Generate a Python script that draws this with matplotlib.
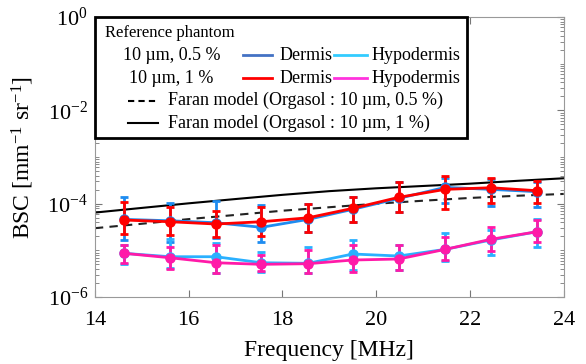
import matplotlib
matplotlib.use('Agg')
import matplotlib.pyplot as plt
import matplotlib.ticker as ticker
from matplotlib.patches import Rectangle
import numpy as np

plt.rcParams['font.family'] = ['Liberation Serif', 'DejaVu Serif']
plt.rcParams['mathtext.fontset'] = 'custom'
plt.rcParams['mathtext.rm'] = 'Liberation Serif'
plt.rcParams['mathtext.it'] = 'Liberation Serif:italic'

# measurement frequencies [MHz]
freq = [14.62, 15.6, 16.58, 17.55, 18.55, 19.5, 20.48, 21.47, 22.45, 23.43]

# 10 um, 0.5 % phantom
derm05 = [4.62e-5, 4.31e-5, 3.91e-5, 3.12e-5, 4.62e-5, 7.58e-5, 1.30e-4, 2.24e-4, 2.03e-4, 1.81e-4]
derm05_hi = [1.41e-4, 1.05e-4, 1.16e-4, 9.37e-5, 9.84e-5, 1.41e-4, 2.96e-4, 3.50e-4, 3.38e-4, 2.92e-4]
derm05_lo = [1.67e-5, 1.53e-5, 1.81e-5, 1.53e-5, 2.47e-5, 4.11e-5, 6.73e-5, 1.02e-4, 8.91e-5, 8.61e-5]
hypo05 = [8.65e-6, 7.31e-6, 7.31e-6, 5.43e-6, 5.28e-6, 8.36e-6, 7.57e-6, 1.05e-5, 1.67e-5, 2.51e-5]
hypo05_hi = [1.30e-5, 1.73e-5, 1.42e-5, 9.35e-6, 1.16e-5, 1.67e-5, 1.30e-5, 2.32e-5, 2.73e-5, 4.62e-5]
hypo05_lo = [5.02e-6, 4.19e-6, 3.22e-6, 3.48e-6, 3.32e-6, 3.79e-6, 3.79e-6, 6.0e-6, 7.94e-6, 1.16e-5]

# 10 um, 1 % phantom
derm1 = [4.47e-5, 4.11e-5, 3.67e-5, 4.11e-5, 5.0e-5, 7.96e-5, 1.37e-4, 2.03e-4, 2.2e-4, 1.9e-4]
derm1_hi = [1.07e-4, 8.36e-5, 7.07e-5, 8.61e-5, 9.84e-5, 1.41e-4, 2.96e-4, 3.92e-4, 3.50e-4, 3.10e-4]
derm1_lo = [2.21e-5, 2.13e-5, 1.96e-5, 2.06e-5, 2.51e-5, 4.11e-5, 6.73e-5, 7.58e-5, 1.02e-4, 1.02e-4]
hypo1 = [8.65e-6, 6.95e-6, 5.43e-6, 5.02e-6, 5.18e-6, 6.21e-6, 6.53e-6, 1.05e-5, 1.73e-5, 2.51e-5]
hypo1_hi = [1.30e-5, 1.20e-5, 1.30e-5, 7.94e-6, 1.02e-5, 1.30e-5, 1.30e-5, 1.96e-5, 3.16e-5, 4.47e-5]
hypo1_lo = [5.28e-6, 3.93e-6, 3.32e-6, 3.66e-6, 3.32e-6, 3.48e-6, 3.79e-6, 6.21e-6, 9.68e-6, 1.53e-5]

# Faran model
model_freq = [14, 15, 16, 17, 18, 19, 20, 21, 22, 23, 24]
faran05 = [2.99e-5, 3.72e-5, 4.68e-5, 5.75e-5, 7.08e-5, 8.41e-5, 1.0e-4, 1.16e-4, 1.33e-4, 1.48e-4, 1.62e-4]
faran1 = [6.46e-5, 8.13e-5, 1.02e-4, 1.26e-4, 1.55e-4, 1.86e-4, 2.14e-4, 2.40e-4, 2.69e-4, 3.09e-4, 3.51e-4]

fig = plt.figure(figsize=(5.86, 3.64), dpi=100)
ax = fig.add_axes([0.162, 0.184, 0.8, 0.769])

ax.plot(model_freq, faran05, '--', color='#222222', lw=1.5, dashes=(4, 3))
ax.plot(model_freq, faran1, '-', color='black', lw=1.5)


def series(y, lo, hi, color):
    y = np.array(y)
    err = [y - np.array(lo), np.array(hi) - y]
    ax.errorbar(freq, y, yerr=err, color=color, lw=2, marker='o', ms=6.5,
                capsize=3, capthick=2, elinewidth=2)


series(derm05, derm05_lo, derm05_hi, '#1e8cf0')
series(hypo05, hypo05_lo, hypo05_hi, '#2ab0ff')
series(derm1, derm1_lo, derm1_hi, '#ff0000')
series(hypo1, hypo1_lo, hypo1_hi, '#ff1aa8')

ax.set_yscale('log')
ax.set_xlim(14, 24)
ax.set_ylim(1e-6, 1)
ax.set_xticks([14, 16, 18, 20, 22, 24])
ax.set_yticks([1e-6, 1e-4, 1e-2, 1])
ax.set_yticklabels([r'$10^{-6}$', r'$10^{-4}$', r'$10^{-2}$', r'$10^{0}$'])
ax.yaxis.set_minor_locator(ticker.LogLocator(base=10, subs=np.arange(1, 10), numticks=100))
ax.yaxis.set_minor_formatter(ticker.NullFormatter())
ax.tick_params(which='both', direction='in', top=True, right=True, color='#777777')
ax.tick_params(which='major', length=5, labelsize=16)
ax.tick_params(axis='x', which='major', pad=10)
ax.tick_params(axis='y', which='major', pad=5)
ax.tick_params(which='minor', length=3)
for s in ax.spines.values():
    s.set_color('#999999')

ax.set_xlabel('Frequency [MHz]', fontsize=17, labelpad=7)
ax.set_ylabel(r'BSC [mm$^{-1}$ sr$^{-1}$]', fontsize=17, labelpad=8)

# legend box
tr = ax.transAxes
ax.add_patch(Rectangle((0, 0.568), 0.794, 0.432, transform=tr, facecolor='white',
                       edgecolor='black', lw=2, zorder=5, clip_on=False))
ax.text(0.021, 0.944, 'Reference phantom', transform=tr, fontsize=12, va='center', zorder=6)
ax.text(0.163, 0.864, '10 µm, 0.5 %', transform=tr, fontsize=13, va='center', ha='center', zorder=6)
ax.text(0.163, 0.782, '10 µm, 1 %', transform=tr, fontsize=13, va='center', ha='center', zorder=6)
for yy, c1, c2 in [(0.864, '#4472c4', '#33ccff'), (0.782, '#ff0000', '#ff33dd')]:
    ax.plot([0.316, 0.378], [yy, yy], color=c1, lw=2, transform=tr, zorder=6)
    ax.text(0.393, yy, 'Dermis', transform=tr, fontsize=13, va='center', zorder=6)
    ax.plot([0.510, 0.581], [yy, yy], color=c2, lw=2, transform=tr, zorder=6)
    ax.text(0.591, yy, 'Hypodermis', transform=tr, fontsize=13, va='center', zorder=6)
ax.plot([0.070, 0.134], [0.701, 0.701], '--', color='black', lw=1.5, dashes=(3, 2),
        transform=tr, zorder=6)
ax.text(0.156, 0.701, 'Faran model (Orgasol : 10 µm, 0.5 %)', transform=tr, fontsize=13,
        va='center', zorder=6)
ax.plot([0.070, 0.134], [0.622, 0.622], '-', color='black', lw=1.5, transform=tr, zorder=6)
ax.text(0.156, 0.622, 'Faran model (Orgasol : 10 µm, 1 %)', transform=tr, fontsize=13,
        va='center', zorder=6)

fig.savefig('out.png', dpi=100)
